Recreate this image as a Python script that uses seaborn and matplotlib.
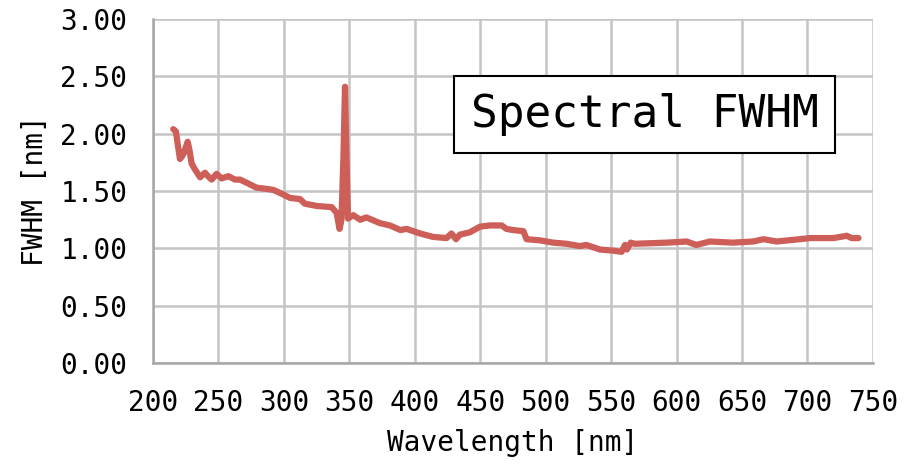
import pandas as pd
import matplotlib
matplotlib.use("Agg")
import matplotlib.pyplot as plt
from matplotlib.ticker import FormatStrFormatter, MultipleLocator
import seaborn as sns

# Values
wavelength = [215.5, 217.5, 219, 220.6, 222, 223.5, 226.5, 228, 229.5, 232,
              236, 239.7, 242, 244.8, 248.6, 252.5, 257.5, 262.6, 266.5, 272,
              279, 286, 292, 299.5, 304.7, 312.3, 316, 325, 336.5, 340.3,
              342.5, 344, 345.5, 346.7, 347.8, 349, 353, 358.3, 363, 373.4,
              381, 389, 393.8, 404, 414, 424.3, 428, 431.5, 434.5, 442,
              450, 457.4, 466.4, 470, 475, 483, 485.4, 495.6, 505.8, 516,
              526, 531, 541.5, 551.6, 558, 560.6, 562, 565, 568, 592.4,
              607.7, 615, 625.5, 643, 658.6, 666.3, 676.5, 694, 702, 720,
              730, 733.7, 739]
fwhm = [2.04, 2.02, 1.90, 1.78, 1.80, 1.83, 1.93, 1.85, 1.74, 1.69,
        1.62, 1.66, 1.63, 1.60, 1.65, 1.61, 1.63, 1.60, 1.60, 1.57,
        1.53, 1.52, 1.51, 1.47, 1.44, 1.43, 1.39, 1.37, 1.36, 1.31,
        1.17, 1.25, 1.80, 2.41, 1.80, 1.26, 1.29, 1.25, 1.27, 1.22,
        1.20, 1.16, 1.17, 1.13, 1.10, 1.09, 1.13, 1.08, 1.12, 1.14,
        1.19, 1.20, 1.20, 1.17, 1.16, 1.15, 1.08, 1.07, 1.05, 1.04,
        1.02, 1.03, 0.99, 0.98, 0.97, 1.03, 0.99, 1.05, 1.04, 1.05,
        1.06, 1.03, 1.06, 1.05, 1.06, 1.08, 1.06, 1.08, 1.09, 1.09,
        1.11, 1.09, 1.09]

df = pd.DataFrame({"wavelength": wavelength, "fwhm": fwhm})

sns.set_style("white")
plt.rcParams['font.family'] = ['DejaVu Sans Mono']
plt.rcParams['text.color'] = 'black'
plt.rcParams['axes.labelcolor'] = 'black'

fig = plt.figure(figsize=(9.15, 4.66), dpi=100)
ax = fig.add_axes([0.1672, 0.221, 0.7868, 0.738])

sns.lineplot(data=df, x="wavelength", y="fwhm", estimator=None, sort=False,
             color="#CD5F58", linewidth=4.5, ax=ax)

ax.set_xlim(200, 750)
ax.set_ylim(0, 3)
ax.xaxis.set_major_locator(MultipleLocator(50))
ax.yaxis.set_major_locator(MultipleLocator(0.5))
ax.yaxis.set_major_formatter(FormatStrFormatter("%.2f"))

ax.grid(True, color="#C4C4C4", linewidth=1.8)
for side in ["top", "right"]:
    ax.spines[side].set_visible(False)
for side in ["left", "bottom"]:
    ax.spines[side].set_color("#A6A6A6")
    ax.spines[side].set_linewidth(1.8)
ax.tick_params(axis="both", direction="out", length=5.5, width=1.5,
               color="#A6A6A6", labelsize=20, labelcolor="black", pad=13)

ax.set_xlabel("Wavelength [nm]", fontsize=20, labelpad=9, color="black")
ax.set_ylabel("FWHM [nm]", fontsize=20, labelpad=8, color="black")

ax.text(0.683, 0.722, "Spectral FWHM", transform=ax.transAxes, fontsize=32,
        ha="center", va="center", color="black",
        bbox=dict(boxstyle="square,pad=0.38", facecolor="white",
                  edgecolor="black", linewidth=1.5))

fig.savefig("out.png", dpi=100)
